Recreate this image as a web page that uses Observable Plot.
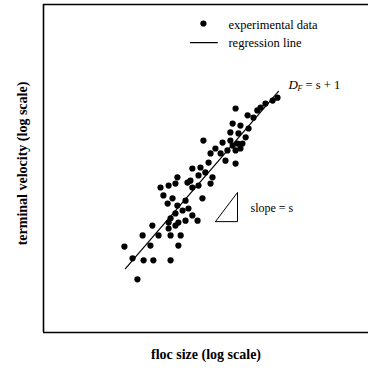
<!DOCTYPE html>
<html>
<head>
<meta charset="utf-8">
<script src="https://cdn.jsdelivr.net/npm/d3@7"></script>
<script src="https://cdn.jsdelivr.net/npm/@observablehq/plot@0.6"></script>
<style>
  html, body { margin: 0; padding: 0; background: #fff; }
  svg { display: block; }
</style>
</head>
<body>
<div id="chart"></div>
<script>
// log floc size (arbitrary units, 0–100) and log terminal velocity (0–100)
const logSize = [
  28.9, 24.9, 27.4, 30.8, 33.8, 39.1, 32.9, 41.5, 30.5, 35.4, 39.1, 42.2, 33.5, 38.5, 40.6,
  38.5, 41.5, 43.7, 47.4, 45.8, 39.1, 40.6, 42.8, 44.6, 41.2, 43.7, 38.2, 39.7, 36.9, 36.0,
  38.5, 40.6, 44.3, 45.8, 47.7, 48.9, 41.2,
  49.2, 55.1, 57.5, 59.7, 52.9, 51.4, 54.5, 56.6, 59.1, 56.0, 59.1, 50.8, 48.3, 49.8, 47.7,
  52.0, 51.4, 45.8, 45.2,
  72.0, 68.3, 66.8, 65.8, 59.1, 62.8, 64.6, 58.2, 60.6, 63.1, 57.5, 60.0, 62.2, 61.2, 58.2,
  60.6, 70.5
];
const logVelocity = [
  16.2, 26.2, 22.6, 22.0, 22.0, 22.0, 26.5, 26.5, 29.6, 29.6, 29.6, 29.6, 32.6, 31.7, 32.6,
  33.5, 33.5, 34.1, 34.1, 35.7, 34.8, 36.3, 37.2, 37.8, 38.7, 40.2, 39.3, 40.9, 41.8, 44.2,
  44.8, 45.4, 45.7, 44.2, 44.8, 40.9, 47.3,
  58.5, 57.9, 58.5, 57.6, 56.1, 54.6, 54.6, 55.5, 55.5, 52.4, 51.5, 51.8, 50.3, 48.8, 47.9,
  47.3, 45.4, 50.0, 46.3,
  71.6, 69.8, 68.6, 67.7, 68.3, 66.2, 65.5, 63.7, 63.1, 62.2, 61.0, 60.7, 59.5, 57.6, 57.0,
  56.1, 70.7
];
// regression line end points
const regX = [25.2, 72.3];
const regY = [19.5, 73.5];
// slope triangle
const triX = [52.9, 59.7, 59.7, 52.9];
const triY = [33.8, 33.8, 42.7, 33.8];

const xLabel = "floc size (log scale)";
const yLabel = "terminal velocity (log scale)";
const legendLabels = ["experimental data", "regression line"];

const points = logSize.map((x, i) => ({x, y: logVelocity[i]}));
const reg = regX.map((x, i) => ({x, y: regY[i]}));
const tri = triX.map((x, i) => ({x, y: triY[i]}));

const serif = "'Liberation Serif', 'Times New Roman', serif";

const chart = Plot.plot({
  width: 368,
  height: 374,
  marginLeft: 43,
  marginRight: 0,
  marginTop: 4,
  marginBottom: 42,
  style: {fontFamily: serif, background: "#fff", color: "#000"},
  x: {domain: [0, 100], axis: null},
  y: {domain: [0, 100], axis: null},
  marks: [
    // frame (left, top, bottom)
    Plot.ruleX([0], {stroke: "#000", strokeWidth: 1.6}),
    Plot.ruleY([0, 100], {stroke: "#000", strokeWidth: 1.6}),
    // regression line
    Plot.line(reg, {x: "x", y: "y", stroke: "#000", strokeWidth: 1.2}),
    // data
    Plot.dot(points, {x: "x", y: "y", r: 3.1, fill: "#000", stroke: "none"}),
    // slope triangle
    Plot.line(tri, {x: "x", y: "y", stroke: "#000", strokeWidth: 1}),
    Plot.text(["slope = s"], {x: [63.7], y: [37.8], textAnchor: "start", fontSize: 12}),
    // D_F = s + 1
    Plot.text(["D"], {x: [75.4], y: [75.6], textAnchor: "start", fontSize: 13, fontStyle: "italic"}),
    Plot.text(["F"], {x: [75.4], y: [75.6], dx: 9, dy: 3.5, textAnchor: "start", fontSize: 8, fontStyle: "italic"}),
    Plot.text(["= s + 1"], {x: [75.4], y: [75.6], dx: 17, textAnchor: "start", fontSize: 12.5}),
    // legend
    Plot.dot([{x: 49.2, y: 94.2}], {x: "x", y: "y", r: 3.1, fill: "#000", stroke: "none"}),
    Plot.line([{x: 45.2, y: 88.4}, {x: 53.5, y: 88.4}], {x: "x", y: "y", stroke: "#000", strokeWidth: 1.2}),
    Plot.text([legendLabels[0]], {x: [56.9], y: [93.9], textAnchor: "start", fontSize: 12.5}),
    Plot.text([legendLabels[1]], {x: [56.9], y: [88.2], textAnchor: "start", fontSize: 12.5}),
    // axis titles
    Plot.text([xLabel], {frameAnchor: "bottom", dy: 26, fontSize: 14, fontWeight: "bold"}),
    Plot.text([yLabel], {frameAnchor: "left", textAnchor: "middle", rotate: -90, dx: -21, dy: -5, fontSize: 14, fontWeight: "bold"})
  ]
});
document.getElementById("chart").appendChild(chart);
</script>
</body>
</html>
